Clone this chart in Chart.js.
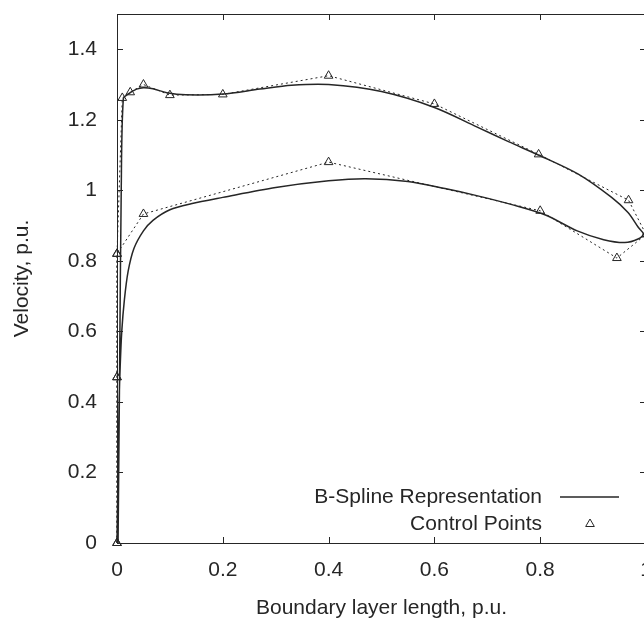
<!DOCTYPE html>
<html>
<head>
<meta charset="utf-8">
<script src="https://cdn.jsdelivr.net/npm/chart.js@4"></script>
<style>
  html, body { margin: 0; padding: 0; background: #fff; overflow: hidden; }
  #chart { display: block; }
</style>
</head>
<body>
<canvas id="chart" width="660" height="622"></canvas>
<script>
// B-spline curve, traced as one loop starting at the origin
const splineX = [0, 0.002, 0.004, 0.006, 0.009, 0.014, 0.021, 0.032, 0.05, 0.068, 0.1, 0.14, 0.2, 0.3, 0.4, 0.47, 0.55, 0.62, 0.68, 0.75, 0.81, 0.87, 0.92, 0.96, 0.985, 0.995, 0.985, 0.966, 0.935, 0.872, 0.8, 0.74, 0.68, 0.6, 0.5, 0.4, 0.33, 0.27, 0.2, 0.13, 0.094, 0.068, 0.05, 0.037, 0.021, 0.012, 0.008, 0.005, 0.002];
const splineY = [0, 0.2, 0.4, 0.5, 0.6, 0.69, 0.77, 0.835, 0.885, 0.915, 0.945, 0.962, 0.98, 1.008, 1.027, 1.033, 1.025, 1.005, 0.985, 0.958, 0.93, 0.885, 0.86, 0.852, 0.862, 0.876, 0.896, 0.937, 0.98, 1.046, 1.098, 1.138, 1.18, 1.235, 1.28, 1.3, 1.298, 1.287, 1.273, 1.271, 1.277, 1.288, 1.291, 1.287, 1.273, 1.26, 1.0, 0.5, 0];

// control polygon
const ctrlX = [0, 0, 0, 0.05, 0.4, 0.8, 0.945, 1.0, 0.967, 0.797, 0.6, 0.4, 0.2, 0.1, 0.05, 0.025, 0.01, 0, 0, 0];
const ctrlY = [0, 0.47, 0.82, 0.933, 1.08, 0.942, 0.808, 0.875, 0.972, 1.102, 1.245, 1.325, 1.272, 1.27, 1.3, 1.278, 1.262, 0.82, 0.47, 0];

const xTicks = [0, 0.2, 0.4, 0.6, 0.8, 1];
const yTicks = [0, 0.2, 0.4, 0.6, 0.8, 1, 1.2, 1.4];

const FONT = 'Liberation Sans, Arial, sans-serif';
const SIZE = 21;
const INK = '#262626';

const toPoints = (xs, ys) => xs.map((x, i) => ({ x: x, y: ys[i] }));

// gnuplot style box with inward ticks on all four sides
const frame = {
  id: 'frame',
  beforeDatasetsDraw(chart) {
    const { ctx, chartArea: a, scales: { x, y } } = chart;
    const len = 6;
    ctx.save();
    ctx.strokeStyle = INK;
    ctx.lineWidth = 1;
    ctx.strokeRect(a.left + 0.5, a.top + 0.5, a.right - a.left, a.bottom - a.top);
    ctx.beginPath();
    xTicks.forEach(v => {
      const px = Math.round(x.getPixelForValue(v)) + 0.5;
      ctx.moveTo(px, a.bottom); ctx.lineTo(px, a.bottom - len);
      ctx.moveTo(px, a.top); ctx.lineTo(px, a.top + len);
    });
    yTicks.forEach(v => {
      const py = Math.round(y.getPixelForValue(v)) + 0.5;
      ctx.moveTo(a.left, py); ctx.lineTo(a.left + len, py);
      ctx.moveTo(a.right, py); ctx.lineTo(a.right - len, py);
    });
    ctx.stroke();
    ctx.restore();
  }
};

// key in the lower right: text first, sample after it
const key = {
  id: 'key',
  afterDraw(chart) {
    const { ctx } = chart;
    const ds = chart.data.datasets;
    const textRight = 542, sampleX = 590;
    const rows = [497, 524];
    ctx.save();
    ctx.font = SIZE + 'px ' + FONT;
    ctx.fillStyle = INK;
    ctx.textAlign = 'right';
    ctx.textBaseline = 'middle';
    ctx.fillText(ds[0].label, textRight, rows[0]);
    ctx.fillText(ds[1].label, textRight, rows[1]);
    ctx.strokeStyle = INK;
    ctx.lineWidth = 1.5;
    ctx.beginPath();
    ctx.moveTo(560, rows[0]); ctx.lineTo(619, rows[0]);
    ctx.stroke();
    ctx.lineWidth = 1;
    ctx.fillStyle = 'rgba(0,0,0,0)';
    Chart.helpers.drawPoint(ctx, { pointStyle: 'triangle', radius: 5, rotation: 0, borderWidth: 1 }, sampleX, rows[1]);
    ctx.restore();
  }
};

const tickFont = { family: FONT, size: SIZE };

new Chart(document.getElementById('chart'), {
  type: 'scatter',
  data: {
    datasets: [{
      label: 'B-Spline Representation',
      data: toPoints(splineX, splineY),
      showLine: true,
      borderColor: INK,
      borderWidth: 1.5,
      pointRadius: 0,
      tension: 0.3,
      clip: 6
    }, {
      label: 'Control Points',
      data: toPoints(ctrlX, ctrlY),
      showLine: true,
      borderColor: INK,
      borderWidth: 1,
      borderDash: [2, 3],
      pointStyle: 'triangle',
      pointRadius: 5,
      pointBorderWidth: 1,
      pointBorderColor: INK,
      pointBackgroundColor: 'rgba(0,0,0,0)',
      tension: 0,
      clip: 8
    }]
  },
  options: {
    responsive: false,
    animation: false,
    layout: { padding: { top: 14, right: 14, left: 0, bottom: 0 } },
    plugins: {
      legend: { display: false },
      tooltip: { enabled: false }
    },
    scales: {
      x: {
        type: 'linear',
        min: 0, max: 1,
        grid: { display: false, drawTicks: false },
        border: { display: false },
        afterBuildTicks: s => { s.ticks = xTicks.map(v => ({ value: v })); },
        afterFit: s => { s.height = 79; s.paddingLeft = 0; s.paddingRight = 0; },
        ticks: {
          padding: 15,
          color: INK,
          font: tickFont,
          callback: v => String(+v.toFixed(1))
        },
        title: {
          display: true,
          text: 'Boundary layer length, p.u.',
          color: INK,
          font: tickFont,
          padding: { top: 0, bottom: 1 }
        }
      },
      y: {
        type: 'linear',
        min: 0, max: 1.5,
        grid: { display: false, drawTicks: false },
        border: { display: false },
        afterBuildTicks: s => { s.ticks = yTicks.map(v => ({ value: v })); },
        afterFit: s => { s.width = 117; s.paddingTop = 0; s.paddingBottom = 0; },
        ticks: {
          padding: 20,
          color: INK,
          font: tickFont,
          callback: v => String(+v.toFixed(1))
        },
        title: {
          display: true,
          text: 'Velocity, p.u.',
          color: INK,
          font: tickFont,
          padding: { top: 10, bottom: 0 }
        }
      }
    }
  },
  plugins: [frame, key]
});
</script>
</body>
</html>
